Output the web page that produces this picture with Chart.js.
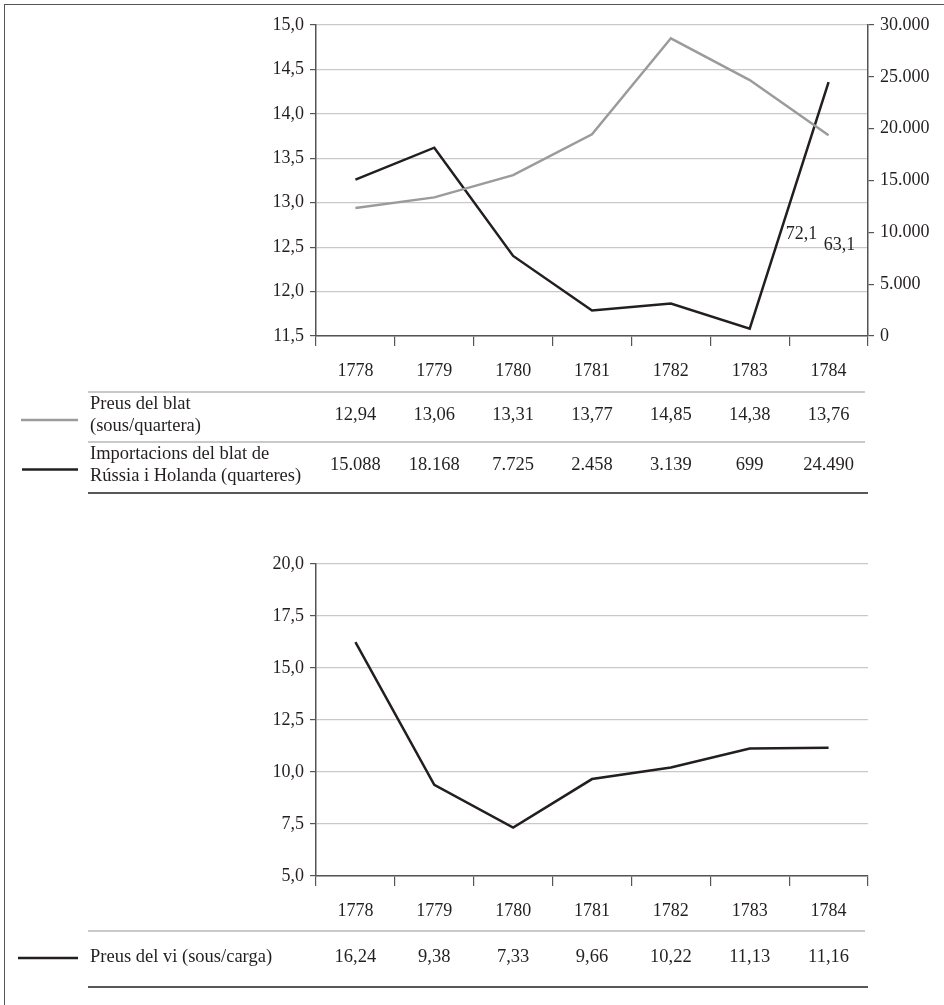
<!DOCTYPE html>
<html><head><meta charset="utf-8">
<script src="https://cdn.jsdelivr.net/npm/chart.js@4.4.1/dist/chart.umd.min.js"></script>
<style>
html,body{margin:0;padding:0;background:#fff;width:944px;height:1005px;overflow:hidden;position:relative;}
#frame{position:absolute;left:4px;top:4px;width:1000px;height:1100px;border-left:1px solid #555;border-top:1px solid #555;}
canvas{position:absolute;left:0;}
#c1{top:0;} #c2{top:500px;}
</style></head><body>
<div id="frame"></div>
<canvas id="c1" width="944" height="500"></canvas>
<canvas id="c2" width="944" height="505"></canvas>
<script>
const years = ["1778","1779","1780","1781","1782","1783","1784"];
const wheatPrice = [12.94,13.06,13.31,13.77,14.85,14.38,13.76];
const wheatImports = [15088,18168,7725,2458,3139,699,24490];
const winePrice = [16.24,9.38,7.33,9.66,10.22,11.13,11.16];
const wheatPriceLabel = ["Preus del blat","(sous/quartera)"];
const wheatImportsLabel = ["Importacions del blat de","Rússia i Holanda (quarteres)"];
const winePriceLabel = ["Preus del vi (sous/carga)"];
const wheatPriceText = ["12,94","13,06","13,31","13,77","14,85","14,38","13,76"];
const wheatImportsText = ["15.088","18.168","7.725","2.458","3.139","699","24.490"];
const winePriceText = ["16,24","9,38","7,33","9,66","10,22","11,13","11,16"];
const strayLabels = [{text:"72,1", value:9850, dx:-27},{text:"63,1", value:8800, dx:11}];

const FONT = "'Liberation Serif', 'DejaVu Serif', serif";
const INK = "#231f20";
const GRAY = "#9b9b9b";
const GRID = "#c9c9c9";
const AXIS = "#555555";

const fmt1 = v => v.toFixed(1).replace('.', ',');
const fmtK = v => Math.round(v).toString().replace(/\B(?=(\d{3})+(?!\d))/g, '.');

function tablePlugin(rows) {
  return {
    id: 'table',
    afterDraw(chart) {
      const ctx = chart.ctx, xs = chart.scales.x, ca = chart.chartArea;
      const left = 90, right = ca.right;
      ctx.save();
      ctx.font = "18.5px " + FONT;
      ctx.fillStyle = INK;
      rows.forEach(r => {
        ctx.strokeStyle = r.sepColor; ctx.lineWidth = r.sepWidth;
        ctx.beginPath(); ctx.moveTo(left - 2, r.top); ctx.lineTo(right - 3, r.top); ctx.stroke();
        const mid = (r.top + r.bottom) / 2 + r.dy;
        ctx.strokeStyle = r.color; ctx.lineWidth = 2.5;
        ctx.beginPath(); ctx.moveTo(r.lx, mid + r.ldy); ctx.lineTo(78, mid + r.ldy); ctx.stroke();
        ctx.textBaseline = 'middle'; ctx.textAlign = 'left';
        const n = r.label.length, lh = 22;
        r.label.forEach((t, i) => ctx.fillText(t, left, mid + (i - (n - 1) / 2) * lh));
        ctx.textAlign = 'center';
        r.values.forEach((t, i) => ctx.fillText(t, xs.getPixelForValue(i), mid));
        if (r.last) {
          ctx.strokeStyle = INK; ctx.lineWidth = 1.5;
          ctx.beginPath(); ctx.moveTo(left - 2, r.bottom); ctx.lineTo(right, r.bottom); ctx.stroke();
        }
      });
      ctx.restore();
    }
  };
}

const strayPlugin = {
  id: 'stray',
  afterDatasetsDraw(chart) {
    const ctx = chart.ctx, xs = chart.scales.x, y2 = chart.scales.y2;
    ctx.save();
    ctx.font = "18px " + FONT; ctx.fillStyle = INK;
    ctx.textAlign = 'center'; ctx.textBaseline = 'middle';
    strayLabels.forEach(s => ctx.fillText(s.text, xs.getPixelForValue(6) + s.dx, y2.getPixelForValue(s.value)));
    ctx.restore();
  }
};

function xAxis(h) {
  return {
    type: 'category', offset: true,
    grid: { offset: true, drawOnChartArea: false, drawTicks: true, tickLength: 10, color: AXIS, lineWidth: 1.2 },
    border: { color: AXIS, width: 1.5 },
    ticks: { font: { family: FONT, size: 18 }, color: INK, padding: 14, maxRotation: 0 },
    afterFit(s) { s.height = h; }
  };
}
function yAxis(min, max, step, fmt, pos, width, grid) {
  return {
    type: 'linear', position: pos, min, max,
    grid: { drawOnChartArea: grid, color: grid ? (ctx => GRID) : AXIS, tickColor: AXIS, tickLength: 6, lineWidth: 1.2 },
    border: { color: AXIS, width: 1.5 },
    ticks: { stepSize: step, font: { family: FONT, size: 18 }, color: INK, padding: 6, callback: v => fmt(v) },
    afterFit(s) { s.width = width; }
  };
}

new Chart(document.getElementById('c1'), {
  type: 'line',
  data: {
    labels: years,
    datasets: [
      { data: wheatPrice, yAxisID: 'y', borderColor: GRAY, borderWidth: 2.5, pointRadius: 0, tension: 0 },
      { data: wheatImports, yAxisID: 'y2', borderColor: INK, borderWidth: 2.5, pointRadius: 0, tension: 0 }
    ]
  },
  options: {
    responsive: false, animation: false,
    layout: { padding: { top: 25, left: 0, right: 0, bottom: 0 } },
    plugins: { legend: { display: false }, tooltip: { enabled: false } },
    scales: {
      x: xAxis(164),
      y: yAxis(11.5, 15, 0.5, fmt1, 'left', 316, true),
      y2: yAxis(0, 30000, 5000, fmtK, 'right', 76, false)
    }
  },
  plugins: [strayPlugin, tablePlugin([
    { top: 392, bottom: 442, dy: -2, ldy: 5, label: wheatPriceLabel, values: wheatPriceText, color: GRAY, lx: 21, sepColor: GRID, sepWidth: 2 },
    { top: 442, bottom: 493, dy: -2, ldy: 4, label: wheatImportsLabel, values: wheatImportsText, color: INK, lx: 22, sepColor: GRID, sepWidth: 2, last: true }
  ])]
});

new Chart(document.getElementById('c2'), {
  type: 'line',
  data: {
    labels: years,
    datasets: [
      { data: winePrice, borderColor: INK, borderWidth: 2.5, pointRadius: 0, tension: 0 }
    ]
  },
  options: {
    responsive: false, animation: false,
    layout: { padding: { top: 64, left: 0, right: 76, bottom: 0 } },
    plugins: { legend: { display: false }, tooltip: { enabled: false } },
    scales: {
      x: xAxis(129),
      y: yAxis(5, 20, 2.5, fmt1, 'left', 316, true)
    }
  },
  plugins: [tablePlugin([
    { top: 431, bottom: 487, dy: -2, ldy: 1, label: winePriceLabel, values: winePriceText, color: INK, lx: 18, sepColor: GRID, sepWidth: 2, last: true }
  ])]
});
</script>
</body></html>
